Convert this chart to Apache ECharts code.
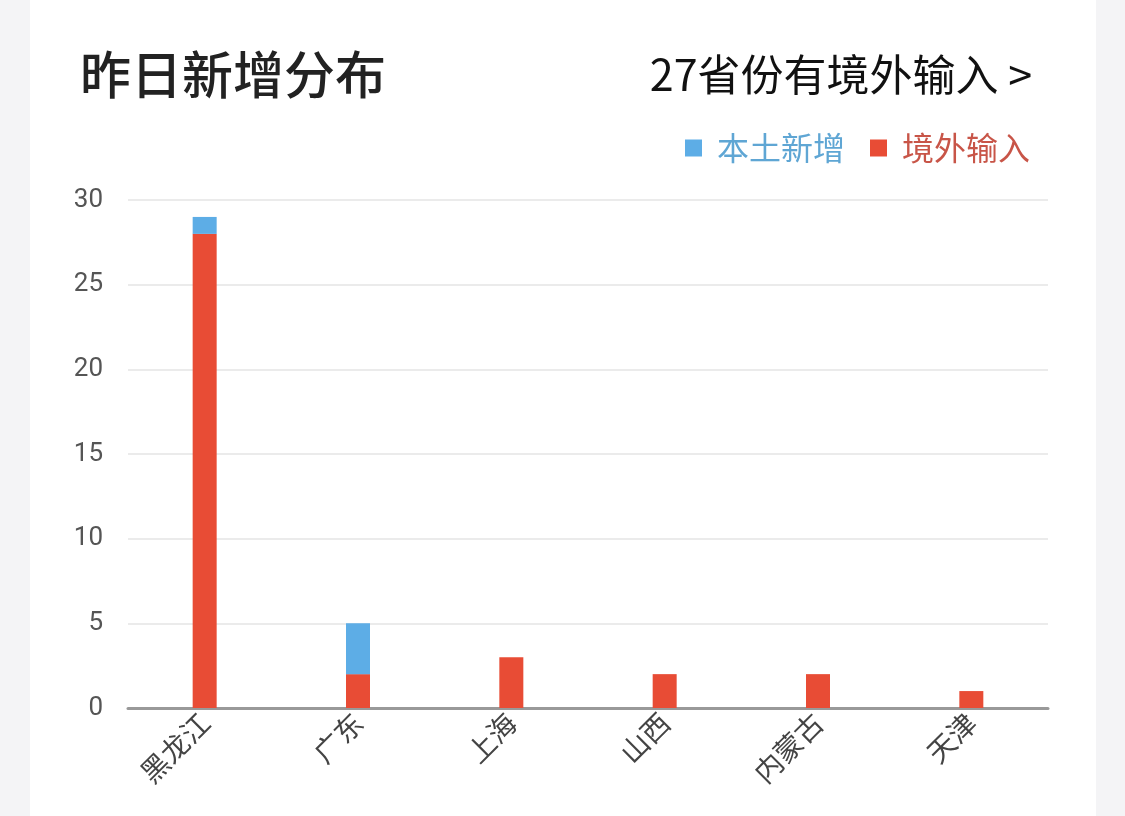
<!DOCTYPE html>
<html>
<head>
<meta charset="utf-8">
<script src="https://cdn.jsdelivr.net/npm/echarts@6/dist/echarts.min.js"></script>
<style>
html,body{margin:0;padding:0;background:#f4f4f6;}
#card{position:absolute;left:30px;top:0;width:1066px;height:816px;background:#fff;}
#main{position:absolute;left:0;top:0;width:1125px;height:816px;}
</style>
</head>
<body>
<div id="card"></div>
<div id="main"></div>
<script>
const categories = ['黑龙江','广东','上海','山西','内蒙古','天津'];
const localNew = [1, 3, 0, 0, 0, 0];
const imported = [28, 2, 3, 2, 2, 1];
const yTicks = [0, 5, 10, 15, 20, 25, 30];

const FONT = '"Noto Sans CJK SC", "Noto Sans", sans-serif';
const chart = echarts.init(document.getElementById('main'));
chart.setOption({
  backgroundColor: 'transparent',
  textStyle: { fontFamily: FONT },
  title: [
    { text: '昨日新增分布', left: 75, top: 44, textStyle: { fontSize: 51, fontWeight: 500, color: '#222', fontFamily: FONT } },
    { text: '27省份有境外输入 >', right: 88, top: 48, textStyle: { fontSize: 43, fontWeight: 400, color: '#111', fontFamily: FONT } }
  ],
  legend: {
    right: 90, top: 127,
    itemWidth: 17, itemHeight: 17, itemGap: 25,
    icon: 'rect',
    data: [
      { name: '本土新增', textStyle: { color: '#5fa6d4' } },
      { name: '境外输入', textStyle: { color: '#c85548' } }
    ],
    textStyle: { fontSize: 32, fontFamily: FONT, padding: [0, 0, 0, 10] }
  },
  grid: { left: 128, right: 77, top: 200, bottom: 108, containLabel: false },
  xAxis: {
    type: 'category',
    data: categories,
    axisLine: { lineStyle: { color: '#999', width: 3 } },
    axisTick: { show: false },
    axisLabel: { rotate: 45, fontSize: 28, color: '#444', margin: 10, interval: 0, fontFamily: FONT, padding: [0, 0, 0, 0] }
  },
  yAxis: {
    type: 'value',
    min: yTicks[0], max: yTicks[yTicks.length - 1], interval: 5,
    axisLine: { show: false },
    axisTick: { show: false },
    axisLabel: { fontSize: 26, color: '#555', margin: 25, fontFamily: 'Roboto, "Noto Sans", sans-serif' },
    splitLine: { lineStyle: { color: '#ebebeb', width: 2 } }
  },
  series: [
    { name: '境外输入', type: 'bar', stack: 'total', data: imported, barWidth: 24, itemStyle: { color: '#e84c35' } },
    { name: '本土新增', type: 'bar', stack: 'total', data: localNew, barWidth: 24, itemStyle: { color: '#5dade6' } }
  ]
});
</script>
</body>
</html>
